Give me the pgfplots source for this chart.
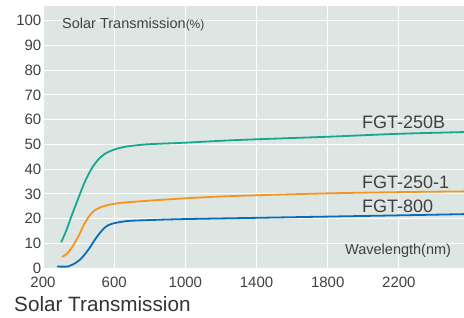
\documentclass[border=0pt]{standalone}
\usepackage{pgfplots}
\pgfplotsset{compat=1.18}
\usepackage{fontspec}
\setmainfont{Liberation Sans}
\definecolor{bgc}{HTML}{DEE6E4}
\definecolor{teal1}{HTML}{17A68F}
\definecolor{orange1}{HTML}{F7941D}
\definecolor{blue1}{HTML}{0A6CB8}
\definecolor{txt}{HTML}{404040}
\begin{document}
\begin{tikzpicture}[x=1pt,y=1pt]
\useasboundingbox (0,0) rectangle (464,318);
\begin{axis}[
  at={(43pt,49pt)}, anchor=south west,
  scale only axis, width=421pt, height=263pt,
  xmin=200, xmax=2566, ymin=-0.4, ymax=106,
  axis background/.style={fill=bgc},
  axis line style={draw=none},
  major tick length=0pt,
  xtick={200,600,1000,1400,1800,2200},
  ytick={0,10,20,30,40,50,60,70,80,90,100},
  grid=major, major grid style={white, line width=1pt},
  /pgf/number format/assume math mode=true,
  /pgf/number format/1000 sep={},
  tick label style={font=\fontsize{15}{17}\selectfont, text=txt},
  yticklabel style={inner sep=0pt, xshift=-1.5pt},
  xticklabel style={inner sep=0pt, yshift=-7.5pt},
  clip=true,
]
\addplot[teal1, line width=1.8pt, smooth] coordinates {
(302,10.4)(330,15)(360,21)(400,28.5)(430,34)(455,37.8)(480,41)(510,43.8)(550,46.3)(600,47.9)(650,48.9)(720,49.6)(800,50.1)(1000,50.7)(1300,51.8)(1800,53.1)(2200,54.3)(2566,55)};
\addplot[orange1, line width=1.8pt, smooth] coordinates {
(307,4.5)(330,5.5)(360,8)(400,13)(430,17.5)(460,21)(490,23.3)(550,25.2)(660,26.5)(1000,28.2)(1300,29.2)(1800,30.2)(2200,30.7)(2566,31)};
\addplot[blue1, line width=1.8pt, smooth] coordinates {
(279,0.6)(340,0.6)(370,1.5)(410,3.5)(453,7.2)(510,13.3)(566,17.3)(662,18.9)(800,19.4)(1000,19.8)(1400,20.3)(1800,20.8)(2200,21.3)(2566,21.8)};
\end{axis}
\node[anchor=base west, inner sep=0pt, text=txt, font=\fontsize{14.5}{16}\selectfont] at (62,289) {Solar Transmission{\fontsize{12}{14}\selectfont(\%)}};
\node[anchor=base west, inner sep=0pt, text=txt, font=\fontsize{18}{20}\selectfont] at (362,189) {FGT-250B};
\node[anchor=base west, inner sep=0pt, text=txt, font=\fontsize{18}{20}\selectfont] at (362,129) {FGT-250-1};
\node[anchor=base west, inner sep=0pt, text=txt, font=\fontsize{18}{20}\selectfont] at (362,105.5) {FGT-800};
\node[anchor=base west, inner sep=0pt, text=txt, font=\fontsize{14.5}{16}\selectfont] at (345,63.7) {Wavelength(nm)};
\node[anchor=base west, inner sep=0pt, text=black!80, font=\fontsize{20.7}{24}\selectfont] at (14,6) {Solar Transmission};
\end{tikzpicture}
\end{document}
